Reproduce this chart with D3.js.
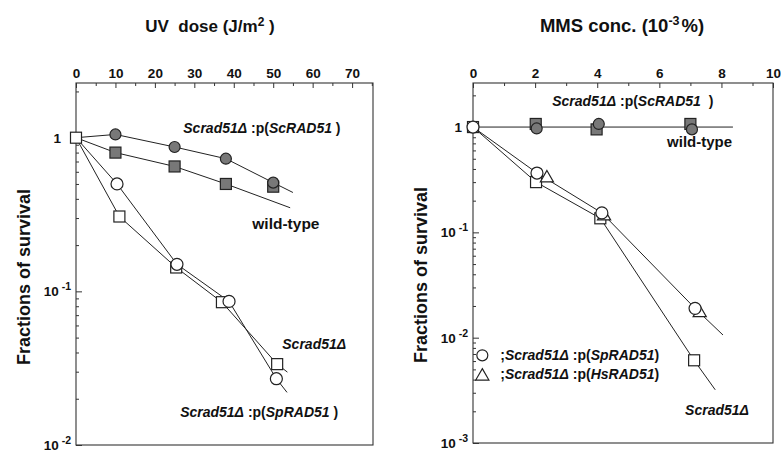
<!DOCTYPE html>
<html>
<head>
<meta charset="utf-8">
<script src="https://cdn.jsdelivr.net/npm/d3@7"></script>
<style>
  body { margin: 0; background: #fff; }
  svg text { font-family: "Liberation Sans", Arial, sans-serif; fill: #111; }
</style>
</head>
<body>
<svg width="781" height="455"></svg>
<script>
// ---- UV panel data (dose J/m2, fraction of survival) ----
var uvTicks = [0, 10, 20, 30, 40, 50, 60, 70];
var uvMinorTicks = [5, 15, 25, 35, 45, 55, 65, 75];

var uvScDose = [10, 25, 38, 50];
var uvScSurv = [1.05, 0.87, 0.73, 0.51];
var uvScCurveX = [0, 10, 25, 38, 50, 55];
var uvScCurveY = [1, 1.05, 0.87, 0.73, 0.51, 0.44];

var uvWtDose = [10, 25, 38, 50];
var uvWtSurv = [0.80, 0.65, 0.50, 0.48];
var uvWtCurveX = [0, 10, 25, 38, 54.3];
var uvWtCurveY = [1, 0.80, 0.65, 0.50, 0.35];

var uvDelDose = [0, 11, 25.4, 37, 51];
var uvDelSurv = [1, 0.307, 0.143, 0.085, 0.0336];
var uvDelCurveX = [0, 11, 25.4, 37, 51, 53.6];
var uvDelCurveY = [1, 0.307, 0.143, 0.085, 0.0336, 0.0298];

var uvSpDose = [10.4, 25.6, 38.8, 50.8];
var uvSpSurv = [0.50, 0.150, 0.086, 0.027];
var uvSpCurveX = [0, 10.4, 25.6, 38.8, 50.8, 53.5];
var uvSpCurveY = [1, 0.50, 0.150, 0.086, 0.027, 0.022];

// ---- MMS panel data (conc. 10^-3 %, fraction of survival) ----
var mmsTicks = [0, 2, 4, 6, 8, 10];
var mmsMinorTicks = [1, 3, 5, 7, 9];

var mmsWtConc = [2.02, 3.98, 7.0];
var mmsWtSurv = [1.07, 0.95, 1.07];
var mmsScConc = [2.05, 4.05, 7.05];
var mmsScSurv = [0.97, 1.07, 0.95];
var mmsWtCurveX = [0, 8.37];
var mmsWtCurveY = [1, 1];

var mmsSpConc = [0, 2.06, 4.15, 7.15];
var mmsSpSurv = [1, 0.366, 0.153, 0.019];
var mmsSpCurveX = [0, 2.06, 4.15, 7.15, 8.05];
var mmsSpCurveY = [1, 0.366, 0.153, 0.019, 0.0106];

var mmsHsConc = [2.38, 4.22, 7.3];
var mmsHsSurv = [0.335, 0.146, 0.0176];

var mmsDelConc = [0, 2.03, 4.1, 7.12];
var mmsDelSurv = [1, 0.30, 0.136, 0.0061];
var mmsDelCurveX = [0, 2.03, 4.1, 7.12, 7.8];
var mmsDelCurveY = [1, 0.30, 0.136, 0.0061, 0.0032];


var svg = d3.select('svg');

var xL = d3.scaleLinear().domain([0, 75.3]).range([76, 373]);
var yL = d3.scaleLog().domain([0.01, 2.27]).range([445, 83]);
var xR = d3.scaleLinear().domain([0, 9.66]).range([473, 773]).clamp(true);
var yR = d3.scaleLog().domain([0.001, 2.62]).range([443, 83]);

var GRAY = '#787878';

function pairs(xs, ys){
    return xs.map(function(d, i){ return [d, ys[i]]; });
}

function drawFrame(x, y, ticks, minor, oneOffset){
    var g = svg.append('g');
    var x0 = x.range()[0], x1 = x.range()[1];
    var y0 = y.range()[1], y1 = y.range()[0];

    g.append('rect')
        .attr('x', x0).attr('y', y0)
        .attr('width', x1 - x0).attr('height', y1 - y0)
        .attr('fill', 'none').attr('stroke', '#333').attr('stroke-width', 1.1);

    var top = g.append('g').attr('transform', 'translate(0,' + y0 + ')')
        .call(d3.axisTop(x).tickValues(ticks).tickSize(-5).tickPadding(5));
    top.select('.domain').remove();
    top.selectAll('text').attr('font-size', 13.5).attr('font-weight', 'bold').attr('fill', '#111');

    var topMinor = g.append('g').attr('transform', 'translate(0,' + y0 + ')')
        .call(d3.axisTop(x).tickValues(minor).tickSize(-3).tickFormat(''));
    topMinor.select('.domain').remove();

    // log ticks on the left edge, inside the frame
    var dom = y.domain();
    var lo = Math.round(Math.log10(dom[0]));
    var majors = [], minors = [];
    for (var e = lo; e <= 0; e++){
        majors.push(Math.pow(10, e));
        for (var m = 2; m <= 9; m++){
            var v = m * Math.pow(10, e);
            if (v <= dom[1]) minors.push(v);
        }
    }
    var left = g.append('g').attr('transform', 'translate(' + x0 + ',0)')
        .call(d3.axisLeft(y).tickValues(majors).tickSize(-6).tickFormat(''));
    left.select('.domain').remove();
    var leftMinor = g.append('g').attr('transform', 'translate(' + x0 + ',0)')
        .call(d3.axisLeft(y).tickValues(minors).tickSize(-3).tickFormat(''));
    leftMinor.select('.domain').remove();
    g.selectAll('.tick line').attr('stroke', '#333');

    majors.forEach(function(v){
        var ex = Math.round(Math.log10(v));
        var t = g.append('text')
            .attr('text-anchor', 'end')
            .attr('font-weight', 'bold')
            .attr('font-size', 13.5)
            .attr('y', y(v) + 5);
        if (ex === 0){
            t.attr('x', x0 - oneOffset).text('1');
        } else {
            t.attr('x', x0 - 5);
            t.append('tspan').text('10');
            t.append('tspan').attr('dx', 3).attr('dy', -6).attr('font-size', 10.5).text(String(ex));
        }
    });
}

function drawCurve(x, y, xs, ys){
    svg.append('path')
        .datum(pairs(xs, ys))
        .attr('fill', 'none')
        .attr('stroke', '#222')
        .attr('stroke-width', 1)
        .attr('d', d3.line().x(function(d){ return x(d[0]); }).y(function(d){ return y(d[1]); }));
}

function drawCircles(x, y, xs, ys, fill, r){
    svg.append('g').selectAll('circle')
        .data(pairs(xs, ys))
        .enter()
        .append('circle')
        .attr('cx', function(d){ return x(d[0]); })
        .attr('cy', function(d){ return y(d[1]); })
        .attr('r', r)
        .attr('fill', fill)
        .attr('stroke', '#222')
        .attr('stroke-width', 1.2);
}

function drawSquares(x, y, xs, ys, fill, s){
    svg.append('g').selectAll('rect')
        .data(pairs(xs, ys))
        .enter()
        .append('rect')
        .attr('x', function(d){ return x(d[0]) - s / 2; })
        .attr('y', function(d){ return y(d[1]) - s / 2; })
        .attr('width', s)
        .attr('height', s)
        .attr('fill', fill)
        .attr('stroke', '#222')
        .attr('stroke-width', 1.2);
}

function drawTriangles(x, y, xs, ys){
    svg.append('g').selectAll('path')
        .data(pairs(xs, ys))
        .enter()
        .append('path')
        .attr('transform', function(d){ return 'translate(' + x(d[0]) + ',' + (y(d[1]) + 1) + ')'; })
        .attr('d', d3.symbol().type(d3.symbolTriangle).size(75))
        .attr('fill', 'white')
        .attr('stroke', '#222')
        .attr('stroke-width', 1.2);
}

// label with italic/upright parts: parts = [[text, italic], ...]
function label(x, y, px, py, parts, size){
    var t = svg.append('text')
        .attr('x', x(px))
        .attr('y', y(py))
        .attr('font-size', size || 14)
        .attr('font-weight', 'bold');
    parts.forEach(function(p){
        t.append('tspan')
            .attr('font-style', p[1] ? 'italic' : 'normal')
            .style('white-space', 'pre')
            .text(p[0]);
    });
    return t;
}

// ---- titles ----
svg.append('text').attr('x', 210).attr('y', 32).attr('text-anchor', 'middle')
    .attr('font-size', 17).attr('font-weight', 'bold')
    .call(function(t){
        t.append('tspan').style('white-space', 'pre').text('UV  dose (J/m');
        t.append('tspan').attr('dy', -6).attr('font-size', 12).text('2');
        t.append('tspan').attr('dy', 6).text(' )');
    });

svg.append('text').attr('x', 622).attr('y', 32).attr('text-anchor', 'middle')
    .attr('font-size', 18.5).attr('font-weight', 'bold')
    .call(function(t){
        t.append('tspan').text('MMS conc. (10');
        t.append('tspan').attr('dy', -7).attr('font-size', 12.5).text('-3');
        t.append('tspan').attr('dy', 7).attr('dx', 2).text('%)');
    });

svg.append('text').attr('transform', 'translate(30,277)rotate(-90)')
    .attr('text-anchor', 'middle').attr('font-size', 18).attr('font-weight', 'bold')
    .text('Fractions of survival');
svg.append('text').attr('transform', 'translate(427,275)rotate(-90)')
    .attr('text-anchor', 'middle').attr('font-size', 18).attr('font-weight', 'bold')
    .text('Fractions of survival');

// ---- UV panel ----
drawFrame(xL, yL, uvTicks, uvMinorTicks, 15);

drawCurve(xL, yL, uvScCurveX, uvScCurveY);
drawCurve(xL, yL, uvWtCurveX, uvWtCurveY);
drawCurve(xL, yL, uvDelCurveX, uvDelCurveY);
drawCurve(xL, yL, uvSpCurveX, uvSpCurveY);

drawSquares(xL, yL, uvWtDose, uvWtSurv, GRAY, 11);
drawCircles(xL, yL, uvScDose, uvScSurv, GRAY, 5.5);
drawSquares(xL, yL, uvDelDose, uvDelSurv, 'white', 11);
drawCircles(xL, yL, uvSpDose, uvSpSurv, 'white', 6);

label(xL, yL, 27.2, 1.08, [['Scrad51\u0394', true], [' :p(', false], ['ScRAD51', true], [' )', false]]);
label(xL, yL, 44.7, 0.253, [['wild-type', false]], 15.5);
label(xL, yL, 52.3, 0.042, [['Scrad51\u0394', true]]);
label(xL, yL, 26.4, 0.0152, [['Scrad51\u0394', true], [' :p(', false], ['SpRAD51', true], [' )', false]]);

// ---- MMS panel ----
drawFrame(xR, yR, mmsTicks, mmsMinorTicks, 11);

drawCurve(xR, yR, mmsWtCurveX, mmsWtCurveY);
drawCurve(xR, yR, mmsSpCurveX, mmsSpCurveY);
drawCurve(xR, yR, mmsDelCurveX, mmsDelCurveY);

drawSquares(xR, yR, mmsWtConc, mmsWtSurv, GRAY, 11);
drawCircles(xR, yR, mmsScConc, mmsScSurv, GRAY, 5.5);
drawSquares(xR, yR, mmsDelConc, mmsDelSurv, 'white', 11);
drawTriangles(xR, yR, mmsHsConc, mmsHsSurv);
drawCircles(xR, yR, mmsSpConc, mmsSpSurv, 'white', 6);

label(xR, yR, 2.55, 1.58, [['Scrad51\u0394', true], [' :p(', false], ['ScRAD51', true], ['  )', false]]);
label(xR, yR, 6.25, 0.645, [['wild-type', false]], 15);
label(xR, yR, 6.83, 0.00184, [['Scrad51\u0394', true]]);

// legend
drawCircles(xR, yR, [0.3], [0.0068], 'white', 5.5);
drawTriangles(xR, yR, [0.3], [0.0044]);
label(xR, yR, 0.88, 0.00612, [[';', false], ['Scrad51\u0394', true], [' :p(', false], ['SpRAD51', true], [')', false]]);
label(xR, yR, 0.88, 0.00404, [[';', false], ['Scrad51\u0394', true], [' :p(', false], ['HsRAD51', true], [')', false]]);
</script>
</body>
</html>
